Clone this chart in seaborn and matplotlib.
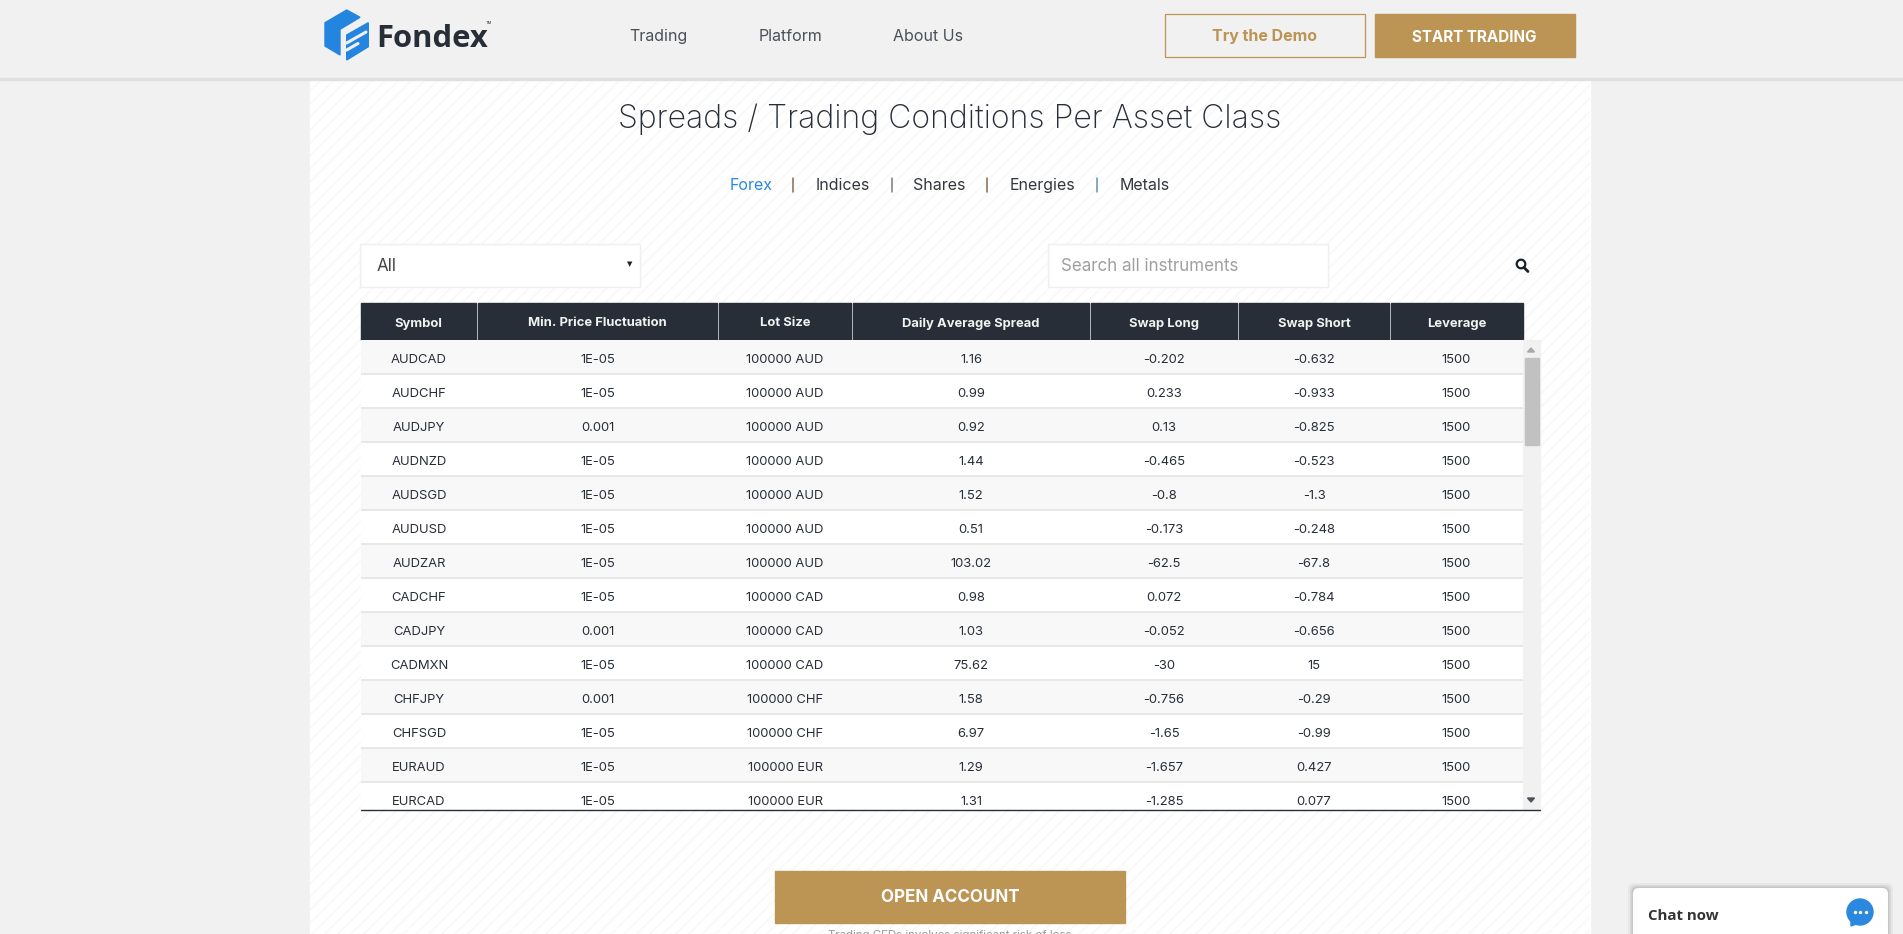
import numpy as np
import matplotlib
matplotlib.use('Agg')
import matplotlib.pyplot as plt
import seaborn as sns
from matplotlib.colors import ListedColormap
from matplotlib.patches import Rectangle, FancyBboxPatch, Polygon, Circle

# table contents
headers = ['Symbol', 'Min. Price Fluctuation', 'Lot Size', 'Daily Average Spread', 'Swap Long', 'Swap Short', 'Leverage']
symbols = ['AUDCAD', 'AUDCHF', 'AUDJPY', 'AUDNZD', 'AUDSGD', 'AUDUSD', 'AUDZAR', 'CADCHF', 'CADJPY', 'CADMXN', 'CHFJPY', 'CHFSGD', 'EURAUD', 'EURCAD']
min_fluct = ['1E-05', '1E-05', '0.001', '1E-05', '1E-05', '1E-05', '1E-05', '1E-05', '0.001', '1E-05', '0.001', '1E-05', '1E-05', '1E-05']
lot_size = ['100000 AUD'] * 7 + ['100000 CAD'] * 3 + ['100000 CHF'] * 2 + ['100000 EUR'] * 2
spreads = ['1.16', '0.99', '0.92', '1.44', '1.52', '0.51', '103.02', '0.98', '1.03', '75.62', '1.58', '6.97', '1.29', '1.31']
swap_long = ['-0.202', '0.233', '0.13', '-0.465', '-0.8', '-0.173', '-62.5', '0.072', '-0.052', '-30', '-0.756', '-1.65', '-1.657', '-1.285']
swap_short = ['-0.632', '-0.933', '-0.825', '-0.523', '-1.3', '-0.248', '-67.8', '-0.784', '-0.656', '15', '-0.29', '-0.99', '0.427', '0.077']
leverage = ['1500'] * 14
columns = [symbols, min_fluct, lot_size, spreads, swap_long, swap_short, leverage]

nav_items = ['Trading', 'Platform', 'About Us']
tab_items = ['Forex', 'Indices', 'Shares', 'Energies', 'Metals']

# layout in pixels
W, H = 1903, 934
head_edges = [(361, 476), (478, 717), (719, 851), (853, 1089), (1091, 1237), (1239, 1389), (1391, 1523)]
col_edges = [361, 477, 718, 852, 1090, 1238, 1390, 1523]
nav_x = [658, 790, 928]
tab_x = [751, 843, 939, 1042, 1144.5]
sep_x = [793, 891.5, 987, 1097]
sep_colors = ['#8a6a50', '#7a7a80', '#8a6a50', '#6a90b0']

DARK = '#272e38'
GOLD = '#bc9554'
FONT = 'Inter'

sns.set_theme(style='white')
plt.rcParams['font.family'] = [FONT, 'DejaVu Sans']


def px(size):
    return size * 0.72


fig = plt.figure(figsize=(W / 100, H / 100), dpi=100, facecolor='#f1f1f1')
page = fig.add_axes([0, 0, 1, 1])
page.set_xlim(0, W)
page.set_ylim(H, 0)
page.axis('off')

# white panel with faint diagonal stripes
page.add_patch(Rectangle((310, 78), 1280, H - 78, color='white', zorder=1))
stripes = Rectangle((310, 78), 1280, H - 78, color='none', zorder=1)
page.add_patch(stripes)
for start in np.arange(310, 1590 + H, 13):
    line, = page.plot([start, start - H], [0, H], color='#f8f8f8', lw=1.2, zorder=1.5)
    line.set_clip_path(stripes)

# top bar
page.add_patch(Rectangle((0, 0), W, 78, color='#f1f1f1', zorder=3))
page.add_patch(Rectangle((0, 78), W, 2, color='#e0e0e0', zorder=3))

# logo
logo = [
    [(325, 22.7), (346.7, 10), (360, 17.3), (340, 29.3), (340, 55), (325, 46)],
    [(346.7, 35), (368.3, 22.7), (368.3, 46.7), (346.7, 60)],
]
for pts in logo:
    page.add_patch(Polygon(pts, color='#2485e0', zorder=4))
page.plot([346.7, 366], [43, 32], color='#f1f1f1', lw=2.2, zorder=5)
page.plot([346.7, 358], [50, 43.5], color='#f1f1f1', lw=2.2, zorder=5)
page.text(376, 47, 'Fondex', fontsize=px(31), fontweight='bold', family='Open Sans', color=DARK, va='baseline', ha='left', zorder=5)
page.text(486, 23, 'TM', fontsize=px(4), color=DARK, va='center', ha='left', zorder=5)

for x, label in zip(nav_x, nav_items):
    page.text(x, 41, label, fontsize=px(16), color='#4a4f58', ha='center', va='baseline', zorder=5)

page.add_patch(Rectangle((1165, 14), 199.5, 43, fc='none', ec=GOLD, lw=0.9, zorder=5))
page.text(1264, 37, 'Try the Demo', fontsize=px(16), fontweight='bold', color=GOLD, ha='center', va='center', zorder=5)
page.add_patch(Rectangle((1375, 14), 200, 43, color=GOLD, zorder=5))
page.text(1474, 37, 'START TRADING', fontsize=px(15.2), fontweight='bold', color='white', ha='center', va='center', zorder=5)

# title and tabs
page.text(949.5, 128, 'Spreads / Trading Conditions Per Asset Class', fontsize=px(32), fontweight='light', color=DARK, ha='center', va='baseline', zorder=5)
for i, (x, label) in enumerate(zip(tab_x, tab_items)):
    page.text(x, 190, label, fontsize=px(16), color='#2b88de' if i == 0 else '#33383f', ha='center', va='baseline', zorder=5)
for x, c in zip(sep_x, sep_colors):
    page.plot([x, x], [178, 192], color=c, lw=1.1, zorder=5)

# select and search boxes
page.add_patch(Rectangle((360, 244), 280, 43, fc='white', ec='#efefef', lw=1, zorder=5))
page.text(377, 271, 'All', fontsize=px(17), color='#444444', va='baseline', zorder=6)
page.text(629.5, 264, '▼', fontsize=px(7), color='#222222', family='DejaVu Sans', ha='center', va='center', zorder=6)
page.add_patch(Rectangle((1048, 244), 280, 43, fc='white', ec='#efefef', lw=1, zorder=5))
page.text(1061, 271, 'Search all instruments', fontsize=px(17), color='#a0a0a0', va='baseline', zorder=6)
page.add_patch(Circle((1521, 264), 4.3, fc='none', ec='#1a2028', lw=1.6, zorder=6))
page.plot([1524, 1528], [267.5, 271.5], color='#1a2028', lw=2, zorder=6)

# table header
for (x0, x1), label in zip(head_edges, headers):
    page.add_patch(Rectangle((x0, 303), x1 - x0, 37, color='#272e38', zorder=5))
    page.text((x0 + x1) / 2, 326.5, label, fontsize=px(13), fontweight='bold', color='#f2f2f2', ha='center', va='baseline', zorder=6)

# table body, one heatmap per column because the widths differ
n_rows = len(symbols)
stripe_vals = np.array([i % 2 for i in range(n_rows)], dtype=float).reshape(-1, 1)
top, bottom = 340, 809
for i, values in enumerate(columns):
    x0, x1 = col_edges[i], col_edges[i + 1]
    ax = fig.add_axes([x0 / W, 1 - bottom / H, (x1 - x0) / W, (bottom - top) / H])
    labels = np.array(values).reshape(-1, 1)
    sns.heatmap(stripe_vals, annot=labels, fmt='', cmap=ListedColormap(['#f8f8f8', '#ffffff']), vmin=0, vmax=1,
                cbar=False, xticklabels=False, yticklabels=False, ax=ax,
                annot_kws={'fontsize': px(13), 'color': DARK})
    # nudge the labels down a little, the row text sits low in the reference
    for t in ax.texts:
        t.set_y(t.get_position()[1] + 0.09)
    ax.hlines(np.arange(1, n_rows), 0, 1, color='#e2e2e2', lw=1.1)
    ax.set_ylim((bottom - top) / 34, 0)
    ax.set_xlim(0, 1)
    ax.axis('off')

# scrollbar
page.add_patch(Rectangle((1523, 340), 17, 469, color='#f1f1f1', zorder=5))
page.add_patch(Rectangle((1525, 358), 14, 87, color='#c1c1c1', zorder=6))
page.add_patch(Polygon([(1527.5, 352), (1534.5, 352), (1531, 348)], color='#a8a8a8', zorder=6))
page.add_patch(Polygon([(1527.5, 798), (1534.5, 798), (1531, 802)], color='#50505a', zorder=6))
page.plot([361, 1540], [809.5, 809.5], color=DARK, lw=1, zorder=7)

# open account button
page.add_patch(Rectangle((775, 870.5), 350, 52, color=GOLD, zorder=5))
page.text(950, 897, 'OPEN ACCOUNT', fontsize=px(17), fontweight='bold', color='white', ha='center', va='center', zorder=6)
page.text(950, 935, 'Trading CFDs involves significant risk of loss', fontsize=px(11.5), color='#999999', ha='center', va='center', zorder=6)

# chat widget
for grow, alpha in [(5, 0.04), (3, 0.06), (1.5, 0.08)]:
    page.add_patch(FancyBboxPatch((1637 - grow, 892 - grow), 247 + 2 * grow, 80, boxstyle='round,pad=4,rounding_size=6',
                                  fc='black', ec='none', alpha=alpha, zorder=7))
page.add_patch(FancyBboxPatch((1637, 892), 247, 80, boxstyle='round,pad=4,rounding_size=6', fc='white', ec='none', zorder=8))
page.text(1648, 916, 'Chat now', fontsize=px(15), fontweight='bold', family='Open Sans', color='#333333', va='center', zorder=9)
page.add_patch(Circle((1860, 912), 13, color='#2b88de', zorder=9))
page.add_patch(Polygon([(1851, 920), (1851, 926), (1859, 923)], color='#2b88de', zorder=9))
page.scatter([1854.5, 1860, 1865.5], [912, 912, 912], s=6, color='white', zorder=10, linewidths=0)

fig.savefig('out.png', dpi=100, facecolor=fig.get_facecolor())
